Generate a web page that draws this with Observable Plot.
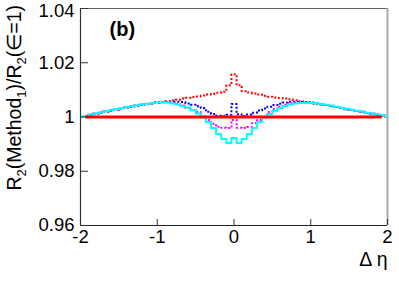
<!DOCTYPE html>
<html><head><meta charset="utf-8">
<script src="https://cdn.jsdelivr.net/npm/d3@7"></script>
<script src="https://cdn.jsdelivr.net/npm/@observablehq/plot@0.6"></script>
<style>html,body{margin:0;padding:0;background:#fff;} #chart{width:399px;height:282px;}</style>
</head><body><div id="chart"></div>
<script>
// Δη bin centres (histogram bins of width 1/15)
const deta = [-2.000,-1.933,-1.867,-1.800,-1.733,-1.667,-1.600,-1.533,-1.467,-1.400,-1.333,-1.267,-1.200,-1.133,-1.067,
  -1.000,-0.933,-0.867,-0.800,-0.733,-0.667,-0.600,-0.533,-0.467,-0.400,-0.333,-0.267,-0.200,-0.133,-0.067,
  0.000,0.067,0.133,0.200,0.267,0.333,0.400,0.467,0.533,0.600,0.667,0.733,0.800,0.867,0.933,1.000,
  1.067,1.133,1.200,1.267,1.333,1.400,1.467,1.533,1.600,1.667,1.733,1.800,1.867,1.933,2.000];

const redDotted = [1.0000,1.0004,1.0008,1.0012,1.0016,1.0020,1.0024,1.0028,1.0032,1.0035,1.0039,1.0042,1.0045,1.0048,1.0050,
  1.0053,1.0055,1.0058,1.0061,1.0064,1.0068,1.0071,1.0074,1.0076,1.0079,1.0083,1.0086,1.0089,1.0093,1.0117,
  1.0158,1.0117,1.0095,1.0090,1.0087,1.0083,1.0078,1.0075,1.0072,1.0070,1.0068,1.0065,1.0062,1.0058,1.0055,1.0053,
  1.0050,1.0047,1.0044,1.0041,1.0037,1.0033,1.0029,1.0026,1.0022,1.0019,1.0015,1.0012,1.0008,1.0005,1.0001];

const blueDotted = [1.0000,1.0004,1.0008,1.0012,1.0016,1.0020,1.0024,1.0028,1.0032,1.0035,1.0039,1.0042,1.0045,1.0048,1.0050,
  1.0053,1.0054,1.0055,1.0056,1.0056,1.0055,1.0050,1.0045,1.0040,1.0033,1.0019,1.0011,1.0005,1.0004,1.0008,
  1.0048,1.0010,1.0004,1.0009,1.0016,1.0024,1.0031,1.0038,1.0044,1.0049,1.0053,1.0056,1.0056,1.0055,1.0054,1.0053,
  1.0050,1.0047,1.0044,1.0041,1.0037,1.0033,1.0029,1.0026,1.0022,1.0019,1.0015,1.0012,1.0008,1.0005,1.0001];

const magentaDotted = [1.0000,1.0004,1.0008,1.0012,1.0016,1.0020,1.0024,1.0028,1.0032,1.0035,1.0039,1.0042,1.0045,1.0048,1.0050,
  1.0053,1.0054,1.0054,1.0052,1.0048,1.0042,1.0033,1.0026,1.0018,1.0002,0.9989,0.9975,0.9964,0.9960,0.9959,
  0.9989,0.9960,0.9959,0.9963,0.9977,0.9989,1.0001,1.0018,1.0029,1.0038,1.0045,1.0050,1.0053,1.0054,1.0053,1.0052,
  1.0050,1.0047,1.0044,1.0041,1.0037,1.0033,1.0029,1.0026,1.0022,1.0019,1.0015,1.0012,1.0008,1.0005,1.0001];

const cyanSolid = [1.0000,1.0004,1.0008,1.0013,1.0017,1.0021,1.0025,1.0029,1.0033,1.0036,1.0040,1.0043,1.0046,1.0049,1.0051,
  1.0053,1.0054,1.0053,1.0050,1.0046,1.0041,1.0035,1.0025,1.0013,0.9999,0.9982,0.9959,0.9937,0.9919,0.9904,
  0.9923,0.9904,0.9919,0.9937,0.9959,0.9982,0.9998,1.0011,1.0022,1.0033,1.0041,1.0046,1.0050,1.0052,1.0052,1.0052,
  1.0051,1.0048,1.0045,1.0042,1.0038,1.0034,1.0030,1.0027,1.0023,1.0020,1.0016,1.0013,1.0009,1.0006,1.0002];

const referenceLevel = [1.0];
const referenceSpan = [-1.93, 1.93];

const xTicks = [-2, -1, 0, 1, 2];
const yTicks = [0.96, 0.98, 1.00, 1.02, 1.04];
const yTicksLower = [0.96, 0.98, 1.00, 1.02];
const yTickTop = [1.04];
const xDomain = [-2, 2];
const yDomain = [0.96, 1.04];

const rows = deta.map((x, i) => ({x, red: redDotted[i], blue: blueDotted[i], magenta: magentaDotted[i], cyan: cyanSolid[i]}));

const font = "'Liberation Sans', Arial, Helvetica, sans-serif";
const dots = "2,2";
const yFmt = d => String(+d.toFixed(2));

const plot = Plot.plot({
  width: 399, height: 282,
  marginLeft: 80, marginRight: 12, marginTop: 8, marginBottom: 57,
  style: {fontFamily: font, fontSize: "18.5px", background: "#fff", color: "#000", overflow: "visible"},
  x: {domain: xDomain, label: null},
  y: {domain: yDomain, label: null},
  marks: [
    Plot.line(rows, {x: "x", y: "red", curve: "step", stroke: "#ff0000", strokeWidth: 2, strokeDasharray: dots}),
    Plot.line(rows, {x: "x", y: "blue", curve: "step", stroke: "#0000ff", strokeWidth: 2, strokeDasharray: dots}),
    Plot.line(rows, {x: "x", y: "magenta", curve: "step", stroke: "#ff00ff", strokeWidth: 2, strokeDasharray: dots}),
    Plot.line(rows, {x: "x", y: "cyan", curve: "step", stroke: "#00ffff", strokeWidth: 2}),
    Plot.ruleY(referenceLevel, {x1: referenceSpan[0], x2: referenceSpan[1], stroke: "#ff0000", strokeWidth: 3}),
    // frame
    Plot.ruleY([yDomain[1]], {stroke: "#666", strokeWidth: 1}),
    Plot.ruleX([xDomain[1]], {stroke: "#aaa", strokeWidth: 2}),
    Plot.ruleX([xDomain[0]], {stroke: "#333", strokeWidth: 1.2}),
    Plot.ruleY([yDomain[0]], {stroke: "#222", strokeWidth: 1.2}),
    // ticks (inside)
    Plot.axisX({ticks: xTicks, tickSize: -6, tickFormat: () => "", stroke: "#333"}),
    Plot.axisY({ticks: yTicks, tickSize: -8, tickFormat: () => "", stroke: "#333"}),
    // tick labels
    Plot.axisX({ticks: xTicks, tickSize: 0, tickPadding: 4, tickFormat: d => String(d), fontSize: 18.5}),
    Plot.axisY({ticks: yTicksLower, tickSize: 0, tickPadding: 6, tickFormat: yFmt, fontSize: 18.5}),
    Plot.axisY({ticks: yTickTop, tickSize: 0, tickPadding: 6, tickFormat: yFmt, fontSize: 18.5, dy: 3}),
    Plot.text(["(b)"], {frameAnchor: "top-left", dx: 29, dy: 13, text: d => d, fontWeight: "bold", fontSize: 20, textAnchor: "start"}),
    Plot.text(["Δ η"], {frameAnchor: "bottom-right", dy: 40, text: d => d, fontSize: 19.5, textAnchor: "end"})
  ]
});

document.getElementById("chart").appendChild(plot);

const svg = d3.select(plot);
// make sure the dotted histograms are dotted (copy group dash onto paths)
svg.selectAll("g[stroke-dasharray]").each(function () {
  const da = this.getAttribute("stroke-dasharray");
  d3.select(this).selectAll("path").attr("stroke-dasharray", da).attr("stroke-linecap", "butt");
});

// y axis title with subscripts
const yt = svg.append("text")
  .attr("transform", "translate(21,5) rotate(-90)")
  .attr("text-anchor", "end")
  .attr("font-family", font)
  .attr("font-size", 19.5)
  .attr("fill", "#000");
const parts = [["R", 0], ["2", 1], ["(Method", 0], ["1", 1], [")/R", 0], ["2", 1], ["(∈=1)", 0]];
let cur = 0;
for (const [s, sub] of parts) {
  const target = sub ? 5 : 0;
  yt.append("tspan").attr("dy", target - cur).attr("font-size", sub ? 13 : 19.5).text(s);
  cur = target;
}
</script>
</body></html>
